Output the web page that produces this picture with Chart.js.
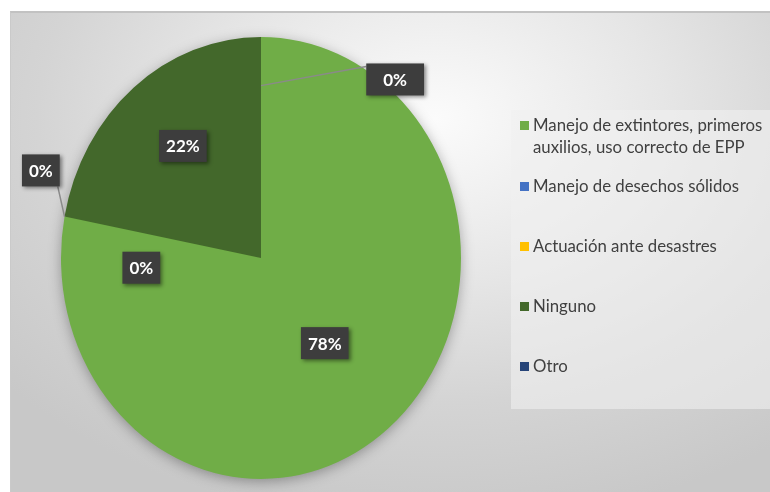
<!DOCTYPE html>
<html>
<head>
<meta charset="utf-8">
<script src="https://cdn.jsdelivr.net/npm/chart.js@4/dist/chart.umd.min.js"></script>
<style>
  body { margin: 0; background: #fff; width: 770px; height: 492px; overflow: hidden; font-family: Lato, "Open Sans", sans-serif; }
  #frame {
    position: absolute; left: 10px; top: 11px; width: 760px; height: 481px;
    background: radial-gradient(ellipse 75% 85% at 56% 22%, #fbfbfb 0%, #e6e6e6 40%, #d4d4d4 70%, #c8c8c8 100%);
    border-top: 2px solid #c2c2c2; border-left: 1px solid #cacaca; box-sizing: border-box;
  }
  #canvas { position: absolute; left: 0; top: 0; }
  #legend {
    position: absolute; left: 500px; top: 97px; width: 260px; height: 299px;
    background: rgba(240, 240, 240, 0.6); box-sizing: border-box; padding: 4px 0 0 9px;
  }
  .item { position: relative; padding-left: 13px; font-size: 16.8px; line-height: 22px; color: #404040; margin-top: 38px; white-space: nowrap; }
  .item:first-child { margin-top: 0; }
  .item:nth-child(2) { margin-top: 17px; }
  .item .sw { position: absolute; left: 0; top: 7px; width: 9px; height: 9px; }
</style>
</head>
<body>
<div id="frame">
  <canvas id="canvas" width="760" height="481"></canvas>
  <div id="legend"></div>
</div>
<script>
var labels = [
  ["Manejo de extintores, primeros", "auxilios, uso correcto de EPP"],
  "Manejo de desechos sólidos",
  "Actuación ante desastres",
  "Ninguno",
  "Otro"
];
var values = [78, 0, 0, 22, 0];
var colors = ["#70ad47", "#4472c4", "#ffc000", "#43682b", "#264478"];

// where each data label sits: fraction of radius, angle shift from its arc (deg)
var placement = [
  { frac: 0.50, shift: 0 },
  { frac: 0.60, shift: -15 },
  { frac: 1.17, shift: 9, leader: 1.0, anchor: "bottomRight" },
  { frac: 0.64, shift: 2 },
  { frac: 1.05, shift: 39.7, leader: 0.78, anchor: "left", padX: 17 }
];
var stretchY = 1.105;

// legend
var legendEl = document.getElementById("legend");
labels.forEach(function (lab, i) {
  var d = document.createElement("div");
  d.className = "item";
  var sw = document.createElement("span");
  sw.className = "sw";
  sw.style.background = colors[i];
  d.appendChild(sw);
  var t = Array.isArray(lab) ? lab : [lab];
  t.forEach(function (line, j) {
    if (j > 0) d.appendChild(document.createElement("br"));
    d.appendChild(document.createTextNode(line));
  });
  legendEl.appendChild(d);
});

var pieLook = {
  id: "pieLook",
  beforeDatasetsDraw: function (chart) {
    var ctx = chart.ctx;
    var arc = chart.getDatasetMeta(0).data[0];
    ctx.save();
    ctx.translate(arc.x, arc.y);
    ctx.scale(1, stretchY);
    ctx.translate(-arc.x, -arc.y);
    // soft shadow under the pie
    ctx.save();
    ctx.shadowColor = "rgba(0,0,0,0.35)";
    ctx.shadowBlur = 14;
    ctx.shadowOffsetY = 3;
    ctx.beginPath();
    ctx.arc(arc.x, arc.y, arc.outerRadius - 1, 0, Math.PI * 2);
    ctx.fillStyle = colors[0];
    ctx.fill();
    ctx.restore();
  },
  afterDatasetsDraw: function (chart) {
    var ctx = chart.ctx;
    ctx.restore();
    var meta = chart.getDatasetMeta(0);
    var total = values.reduce(function (a, b) { return a + b; }, 0);
    ctx.font = "bold 17px Lato";
    meta.data.forEach(function (arc, i) {
      var p = placement[i];
      var mid = (arc.startAngle + arc.endAngle) / 2;
      var a = mid + p.shift * Math.PI / 180;
      var r = arc.outerRadius;
      var px = arc.x + Math.cos(a) * r * p.frac;
      var py = arc.y + Math.sin(a) * r * p.frac * stretchY;
      var txt = Math.round(values[i] / total * 100) + "%";
      var tw = ctx.measureText(txt).width;
      var padX = p.padX || 7;
      var w = tw + padX * 2, h = 32;
      var bx = px - w / 2, by = py - h / 2;

      if (p.leader) {
        var lx = arc.x + Math.cos(mid) * r * p.leader;
        var ly = arc.y + Math.sin(mid) * r * p.leader * stretchY;
        var ex, ey;
        if (p.anchor === "left") { ex = bx; ey = by + 3; }
        else { ex = bx + w - 2; ey = by + h; }
        ctx.beginPath();
        ctx.moveTo(lx, ly);
        ctx.lineTo(ex, ey);
        ctx.strokeStyle = "#8a8a8a";
        ctx.lineWidth = 1.5;
        ctx.stroke();
      }

      ctx.save();
      ctx.shadowColor = "rgba(0,0,0,0.45)";
      ctx.shadowBlur = 4;
      ctx.shadowOffsetX = 2;
      ctx.shadowOffsetY = 2;
      ctx.fillStyle = "#3d3d3d";
      ctx.fillRect(bx, by, w, h);
      ctx.restore();

      ctx.fillStyle = "#ffffff";
      ctx.textAlign = "center";
      ctx.textBaseline = "middle";
      ctx.fillText(txt, px, py + 1);
    });
  }
};

const ctx = document.getElementById("canvas").getContext("2d");
const myChart = new Chart(ctx, {
  type: "pie",
  data: {
    labels: labels,
    datasets: [{
      data: values,
      backgroundColor: colors,
      borderWidth: 0
    }]
  },
  options: {
    responsive: false,
    animation: false,
    layout: { padding: { left: 50, right: 310, top: 45, bottom: 36 } },
    plugins: {
      legend: { display: false },
      tooltip: { enabled: false }
    }
  },
  plugins: [pieLook]
});
</script>
</body>
</html>
